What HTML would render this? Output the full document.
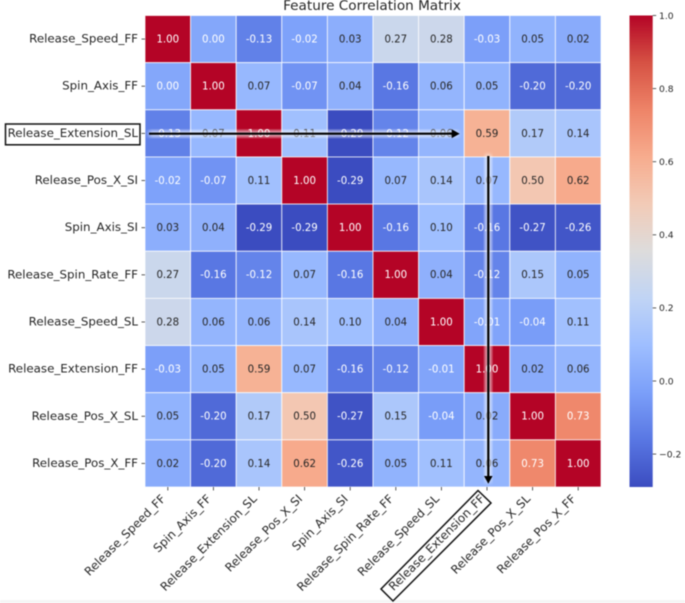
<!DOCTYPE html>
<html>
<head>
<meta charset="utf-8">
<title>Feature Correlation Matrix</title>
<style>
html,body{margin:0;padding:0;background:#fff;width:685px;height:603px;overflow:hidden}
svg{display:block;filter:blur(.45px)}
text{font-family:"DejaVu Sans","Liberation Sans",sans-serif;fill:#262626}
</style>
</head>
<body>
<svg id="chart" xmlns="http://www.w3.org/2000/svg" width="685" height="603" viewBox="0 0 685 603">
<defs>
<filter id="glow" x="-30%" y="-30%" width="160%" height="160%" filterUnits="objectBoundingBox"><feGaussianBlur stdDeviation="2"/></filter>
<linearGradient id="cbar-gradient" x1="0" y1="1" x2="0" y2="0"></linearGradient>
</defs>
<rect x="0" y="600" width="685" height="3" fill="#f5f5f5"/>
<text x="372" y="10" text-anchor="middle" font-size="13.6">Feature Correlation Matrix</text>
<g id="cells"></g>
<g id="annots"></g>
<g id="yaxis"></g>
<g id="xaxis"></g>
<g id="cbar"></g>
<g id="overlay"></g>
</svg>
<script>
const categories = ["Release_Speed_FF","Spin_Axis_FF","Release_Extension_SL","Release_Pos_X_SI","Spin_Axis_SI","Release_Spin_Rate_FF","Release_Speed_SL","Release_Extension_FF","Release_Pos_X_SL","Release_Pos_X_FF"];
const row0 = [1.00,0.00,-0.13,-0.02,0.03,0.27,0.28,-0.03,0.05,0.02];
const row1 = [0.00,1.00,0.07,-0.07,0.04,-0.16,0.06,0.05,-0.20,-0.20];
const row2 = [-0.13,0.07,1.00,0.11,-0.29,-0.12,0.06,0.59,0.17,0.14];
const row3 = [-0.02,-0.07,0.11,1.00,-0.29,0.07,0.14,0.07,0.50,0.62];
const row4 = [0.03,0.04,-0.29,-0.29,1.00,-0.16,0.10,-0.16,-0.27,-0.26];
const row5 = [0.27,-0.16,-0.12,0.07,-0.16,1.00,0.04,-0.12,0.15,0.05];
const row6 = [0.28,0.06,0.06,0.14,0.10,0.04,1.00,-0.01,-0.04,0.11];
const row7 = [-0.03,0.05,0.59,0.07,-0.16,-0.12,-0.01,1.00,0.02,0.06];
const row8 = [0.05,-0.20,0.17,0.50,-0.27,0.15,-0.04,0.02,1.00,0.73];
const row9 = [0.02,-0.20,0.14,0.62,-0.26,0.05,0.11,0.06,0.73,1.00];
const matrix = [row0,row1,row2,row3,row4,row5,row6,row7,row8,row9];
const colorbarTicks = [1.0,0.8,0.6,0.4,0.2,0.0,-0.2];
const vMin = -0.29;
const vMax = 1.0;
const coolwarm = ["#3b4cc0","#5977e3","#7b9ff9","#9ebeff","#c0d4f5","#dddcdc","#f2cbb7","#f7ac8e","#ee8468","#d65244","#b40426"];

const NS = "http://www.w3.org/2000/svg";
const plotLeft = 145, plotRight = 601, plotTop = 15.5, plotBottom = 487;
const cbLeft = 629.5, cbRight = 652.7;
const n = categories.length;
const cellW = (plotRight - plotLeft) / n;
const cellH = (plotBottom - plotTop) / n;
function xPos(i){ return plotLeft + i * cellW; }
function yPos(i){ return plotTop + i * cellH; }
function cbY(v){ return plotBottom - (v - vMin) / (vMax - vMin) * (plotBottom - plotTop); }
function hexToRgb(h){ return [1,3,5].map(function(k){ return parseInt(h.substr(k,2),16); }); }
function colorAt(t){
  t = Math.max(0, Math.min(1, t)) * (coolwarm.length - 1);
  const a = Math.min(Math.floor(t), coolwarm.length - 2);
  const f = t - a, p = hexToRgb(coolwarm[a]), q = hexToRgb(coolwarm[a + 1]);
  return "rgb(" + p.map(function(c, k){ return Math.round(c + (q[k] - c) * f); }).join(",") + ")";
}
function valueColor(v){ return colorAt((v - vMin) / (vMax - vMin)); }
function textColor(v){ return (v <= 0.005 || v >= 0.7) ? "#ffffff" : "#262626"; }
function make(tag, attrs, parent){
  const el = document.createElementNS(NS, tag);
  for (const k in attrs) el.setAttribute(k, attrs[k]);
  parent.appendChild(el);
  return el;
}
const cellsG = document.getElementById("cells");
const annotsG = document.getElementById("annots");
const yG = document.getElementById("yaxis");
const xG = document.getElementById("xaxis");
const cbG = document.getElementById("cbar");
const overlay = document.getElementById("overlay");

matrix.forEach(function(row, r){
  row.forEach(function(v, c){
    const rect = make("rect", {x: xPos(c), y: yPos(r), width: cellW, height: cellH, fill: valueColor(v), stroke: "#ffffff", "stroke-opacity": 0.8, "stroke-width": 0.9}, cellsG);
    
    
    const t = make("text", {x: xPos(c) + cellW / 2, y: yPos(r) + cellH / 2 + 3.4, "text-anchor": "middle", "font-size": 10.2}, annotsG);
    
    
    t.style.fill = textColor(v);
    t.textContent = v.toFixed(2);
  });
});

categories.forEach(function(name, i){
  const ty = yPos(i) + cellH / 2;
  const yTick = make("line", {x1: 141.5, x2: plotLeft, y1: ty, y2: ty, stroke: "#333", "stroke-width": 0.8}, yG);
  
  
  const yLabel = make("text", {x: 138, y: ty + 3.5, "text-anchor": "end", "font-size": 11.85}, yG);
  
  
  yLabel.textContent = name;
  const tx = xPos(i) + cellW / 2;
  const xTick = make("line", {x1: tx, x2: tx, y1: plotBottom, y2: plotBottom + 3.5, stroke: "#333", "stroke-width": 0.8}, xG);
  
  
  const xLabel = make("text", {"text-anchor": "end", "font-size": 11.85, transform: "translate(" + (tx - 1.5) + "," + (plotBottom + 12.5) + ") rotate(-45)"}, xG);
  
  
  xLabel.textContent = name;
});

const gradient = document.getElementById("cbar-gradient");
coolwarm.forEach(function(col, i){
  make("stop", {offset: (i / (coolwarm.length - 1) * 100) + "%", "stop-color": col}, gradient);
});
const cbRect = make("rect", {x: cbLeft, y: cbY(vMax), width: cbRight - cbLeft, height: cbY(vMin) - cbY(vMax), fill: "url(#cbar-gradient)"}, cbG);


colorbarTicks.forEach(function(v){
  const y = cbY(v);
  const tick = make("line", {x1: cbRight, x2: cbRight + 3.5, y1: y, y2: y, stroke: "#333", "stroke-width": 0.8}, cbG);
  
  
  const label = make("text", {x: 659, y: y + 3.3, "font-size": 9.2}, cbG);
  
  
  label.textContent = v.toFixed(1).replace("-", "\u2212");
});

const glowH = make("rect", {x: 149, y: 131, width: 309, height: 5.5, fill: "#ffffff", opacity: 0.85, filter: "url(#glow)"}, overlay);


const glowV = make("rect", {x: 485.5, y: 155, width: 5.5, height: 327, fill: "#ffffff", opacity: 0.85, filter: "url(#glow)"}, overlay);


const lineH = make("line", {x1: 149, x2: 453, y1: 133.7, y2: 133.7, stroke: "#000", "stroke-width": 2.2}, overlay);


const headH = make("polygon", {points: "451.7,129.3 459.7,133.7 451.7,138.1", fill: "#000"}, overlay);


const lineV = make("line", {x1: 488.3, x2: 488.3, y1: 156, y2: 477, stroke: "#000", "stroke-width": 2.2}, overlay);


const headV = make("polygon", {points: "484,476 488.3,483.7 492.6,476", fill: "#000"}, overlay);


const boxY = make("rect", {x: 5.5, y: 124, width: 134.5, height: 20.8, fill: "none", stroke: "#111", "stroke-width": 1.5}, overlay);


const boxX = make("polygon", {points: "478,490.5 491,503 393,601 381,589", fill: "none", stroke: "#111", "stroke-width": 1.5}, overlay);


</script>
</body>
</html>
